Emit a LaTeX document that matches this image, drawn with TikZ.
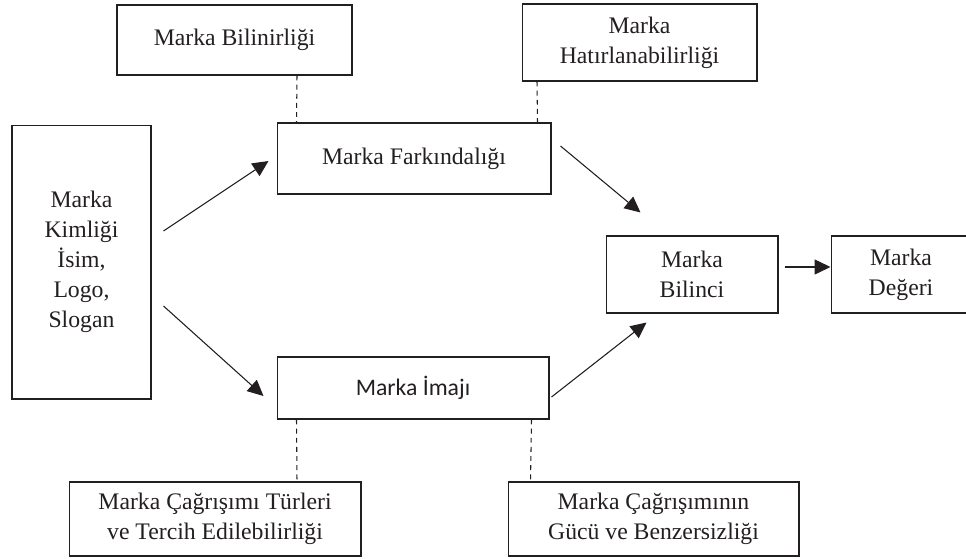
\documentclass[tikz,border=0pt]{standalone}
\usepackage{fontspec}
\setmainfont{Liberation Serif}
\newfontfamily\serifbody{Liberation Serif}
\newfontfamily\sansbody{Carlito}
\usetikzlibrary{arrows.meta,calc}
\definecolor{ink}{HTML}{231F20}
\tikzset{
  box/.style={draw=ink, text=ink, line width=0.6pt, align=center, inner sep=0pt, font=\serifbody\fontsize{13.5}{17}\selectfont},
  arrow/.style={-{Triangle[length=9pt,width=8.5pt]}, line width=0.6pt, draw=ink, fill=ink},
  dashline/.style={draw=ink, line width=0.6pt, dash pattern=on 2.8pt off 2.4pt}
}
\begin{document}
\begin{tikzpicture}[x=0.02cm,y=-0.02cm]
  \useasboundingbox (0,0) rectangle (966,558);
  % top row
  \node[box, minimum width=4.70cm, minimum height=1.40cm] (bilin) at (234.5,40) {Marka Bilinirliği};
  \node[box, minimum width=4.70cm, minimum height=1.54cm] (hatir) at (639.5,42.5) {Marka\\Hatırlanabilirliği};
  % middle
  \node[box, minimum width=2.78cm, minimum height=5.48cm] (kimlik) at (81.5,262) {Marka\\Kimliği\\İsim,\\Logo,\\Slogan};
  \node[box, minimum width=5.48cm, minimum height=1.42cm] (fark) at (414,158.5) {Marka Farkındalığı};
  \node[box, minimum width=5.44cm, minimum height=1.24cm, font=\sansbody\fontsize{13.5}{17}\selectfont] (imaj) at (413,388) {Marka İmajı};
  \node[box, minimum width=3.44cm, minimum height=1.54cm] (bilinc) at (692,274.5) {Marka\\Bilinci};
  \node[box, minimum width=2.80cm, minimum height=1.54cm] (deger) at (901,274.5) {Marka\\Değeri};
  % bottom row
  \node[box, minimum width=5.84cm, minimum height=1.48cm] (cagri) at (215,519) {Marka Çağrışımı Türleri\\ve Tercih Edilebilirliği};
  \node[box, minimum width=5.82cm, minimum height=1.48cm] (guc) at (653.5,519) {Marka Çağrışımının\\Gücü ve Benzersizliği};
  % arrows
  \draw[arrow] ($(kimlik.east)+(12,-31)$) -- ($(fark.west)+(-8,2.5)$);
  \draw[arrow] ($(kimlik.east)+(12,44)$) -- ($(imaj.west)+(-13,8)$);
  \draw[arrow] ($(fark.east)+(9,-12.5)$) -- ($(bilinc.north west)+(35,-23)$);
  \draw[arrow] ($(imaj.east)+(2,9)$) -- ($(bilinc.south west)+(41,9)$);
  \draw[arrow] ($(bilinc.east)+(6,-7.5)$) -- ($(deger.west)+(0,-7.5)$);
  % dashed links
  \draw[dashline] ($(bilin.south)+(62.5,0)$) -- ($(fark.north west)+(20,0)$);
  \draw[dashline] ($(hatir.south)+(-102.5,0)$) -- ($(fark.north east)+(-14,0)$);
  \draw[dashline] ($(imaj.south west)+(20,0)$) -- ($(cagri.north)+(82,0)$);
  \draw[dashline] ($(imaj.south east)+(-18,0)$) -- ($(guc.north west)+(23,0)$);
\end{tikzpicture}
\end{document}
